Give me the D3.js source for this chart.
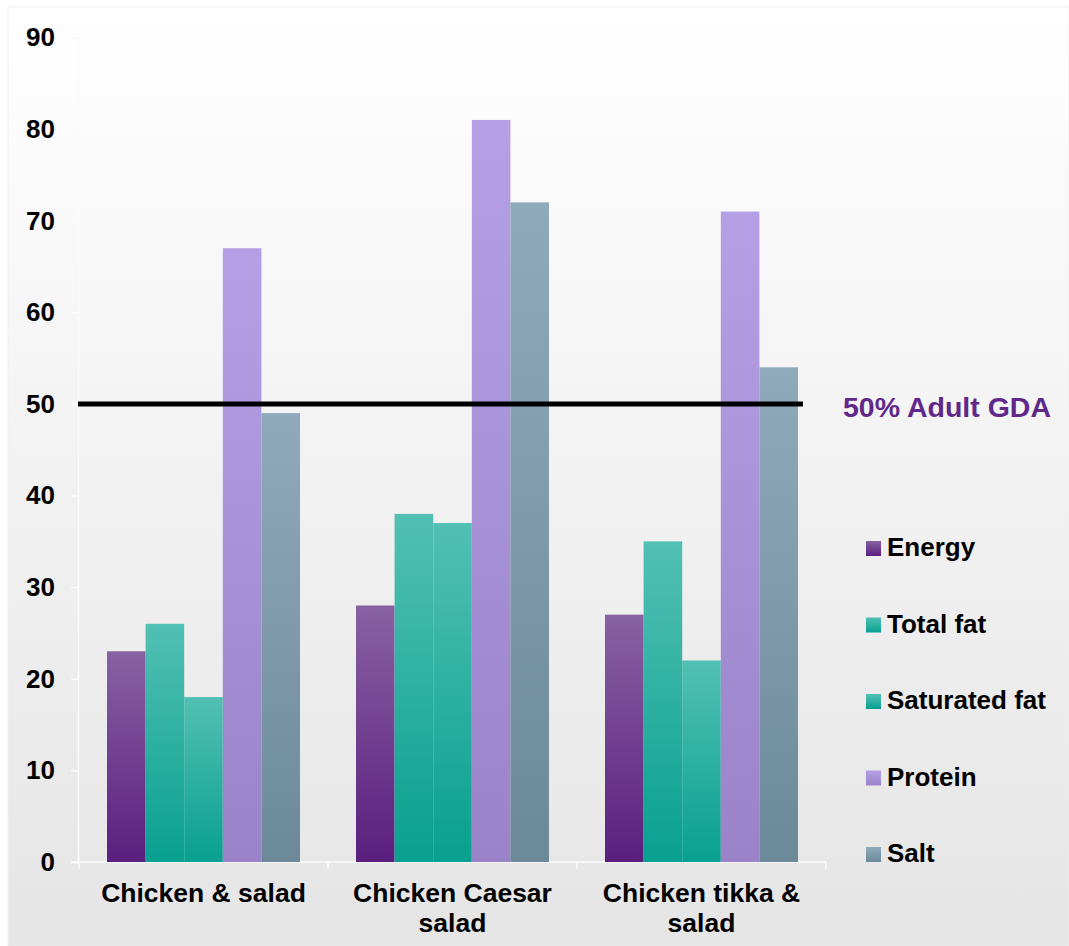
<!DOCTYPE html>
<html>
<head>
<meta charset="utf-8">
<script src="https://cdn.jsdelivr.net/npm/d3@7"></script>
<style>
  body { margin: 0; background: #ffffff; }
  text { font-family: "Liberation Sans", Arial, sans-serif; font-weight: bold; }
</style>
</head>
<body>
<div id="chart"></div>
<script>
// data
var categories = [["Chicken & salad"], ["Chicken Caesar", "salad"], ["Chicken tikka &", "salad"]];
var seriesNames = ["Energy", "Total fat", "Saturated fat", "Protein", "Salt"];
var energy = [23, 28, 27];
var totalFat = [26, 38, 35];
var saturatedFat = [18, 37, 22];
var protein = [67, 81, 71];
var salt = [49, 72, 54];
var yTicks = [0, 10, 20, 30, 40, 50, 60, 70, 80, 90];
var gdaValue = 50;
var gdaLabel = "50% Adult GDA";

var seriesValues = [energy, totalFat, saturatedFat, protein, salt];

// gradient top / bottom colours per series
var colors = [
  ["#8861a3", "#5a1f7e"],
  ["#52c0b4", "#08a08f"],
  ["#52c0b4", "#08a08f"],
  ["#b5a0e6", "#9a83c8"],
  ["#8faabb", "#6c899a"]
];

var W = 1069, H = 946;
var svg = d3.select("#chart").append("svg")
  .attr("width", W)
  .attr("height", H);

var defs = svg.append("defs");
var bg = defs.append("linearGradient").attr("id", "bg")
  .attr("x1", 0).attr("y1", 0).attr("x2", 0).attr("y2", 1);
bg.append("stop").attr("offset", "0%").attr("stop-color", "#ffffff");
bg.append("stop").attr("offset", "100%").attr("stop-color", "#e5e5e5");

colors.forEach(function(c, i) {
  var g = defs.append("linearGradient").attr("id", "grad" + i)
    .attr("x1", 0).attr("y1", 0).attr("x2", 0).attr("y2", 1);
  g.append("stop").attr("offset", "0%").attr("stop-color", c[0]);
  g.append("stop").attr("offset", "100%").attr("stop-color", c[1]);
});

// background panel
svg.append("rect")
  .attr("x", 8).attr("y", 7)
  .attr("width", W - 8).attr("height", H - 7)
  .attr("fill", "url(#bg)")
  .attr("stroke", "#efefef");

var x0 = d3.scaleBand()
  .domain(d3.range(categories.length))
  .range([79, 826]);

var x1 = d3.scaleBand()
  .domain(d3.range(seriesNames.length))
  .range([28, x0.bandwidth() - 28]);

var y = d3.scaleLinear()
  .domain([0, 90])
  .range([862, 37.5]);

// axes
var yAxis = svg.append("g")
  .attr("transform", "translate(78,0)")
  .call(d3.axisLeft(y).tickValues(yTicks).tickSize(7).tickPadding(16));
yAxis.select(".domain").attr("stroke", "#fbfbfb").attr("stroke-width", 1.5);
yAxis.selectAll(".tick line").attr("stroke", "#fbfbfb").attr("stroke-width", 1.5);
yAxis.selectAll(".tick text")
  .attr("font-size", 26)
  .attr("font-family", "Liberation Sans, Arial, sans-serif")
  .attr("fill", "#000");

var xAxis = svg.append("g")
  .attr("transform", "translate(0,862)");
xAxis.append("line")
  .attr("x1", 71).attr("x2", x0.range()[1])
  .attr("stroke", "#fbfbfb").attr("stroke-width", 1.5);
xAxis.selectAll(".xt")
  .data(d3.range(categories.length + 1))
  .enter().append("line")
  .attr("x1", function(d) { return d < categories.length ? x0(d) : x0.range()[1]; })
  .attr("x2", function(d) { return d < categories.length ? x0(d) : x0.range()[1]; })
  .attr("y1", 0).attr("y2", 7)
  .attr("stroke", "#fbfbfb").attr("stroke-width", 1.5);

// bars
var groups = svg.append("g").selectAll(".grp")
  .data(categories)
  .enter().append("g")
  .attr("transform", function(d, i) { return "translate(" + x0(i) + ",0)"; });

groups.selectAll("rect")
  .data(function(d, ci) { return seriesValues.map(function(s, si) { return {s: si, v: s[ci]}; }); })
  .enter().append("rect")
  .attr("x", function(d) { return x1(d.s); })
  .attr("width", x1.bandwidth())
  .attr("y", function(d) { return y(d.v); })
  .attr("height", function(d) { return y(0) - y(d.v); })
  .attr("fill", function(d) { return "url(#grad" + d.s + ")"; });

// category labels
groups.append("text")
  .attr("text-anchor", "middle")
  .attr("font-size", 26.5)
  .selectAll("tspan")
  .data(function(d) { return d; })
  .enter().append("tspan")
  .attr("x", x0.bandwidth() / 2)
  .attr("y", function(d, i) { return 902 + i * 30; })
  .text(function(d) { return d; });

// 50% GDA line
svg.append("line")
  .attr("x1", 78).attr("x2", 803)
  .attr("y1", y(gdaValue)).attr("y2", y(gdaValue))
  .attr("stroke", "#000").attr("stroke-width", 5);

svg.append("text")
  .attr("x", 843)
  .attr("y", y(gdaValue) + 13)
  .attr("font-size", 28.5)
  .attr("fill", "#5f288a")
  .text(gdaLabel);

// legend
var legend = svg.append("g").selectAll(".leg")
  .data(seriesNames)
  .enter().append("g")
  .attr("transform", function(d, i) { return "translate(866," + (556 + i * 76.5) + ")"; });

legend.append("rect")
  .attr("x", 0).attr("y", -15)
  .attr("width", 15).attr("height", 15)
  .attr("fill", function(d, i) { return "url(#grad" + i + ")"; });

legend.append("text")
  .attr("x", 21).attr("y", 0)
  .attr("font-size", 26)
  .attr("fill", "#000")
  .text(function(d) { return d; });
</script>
</body>
</html>
